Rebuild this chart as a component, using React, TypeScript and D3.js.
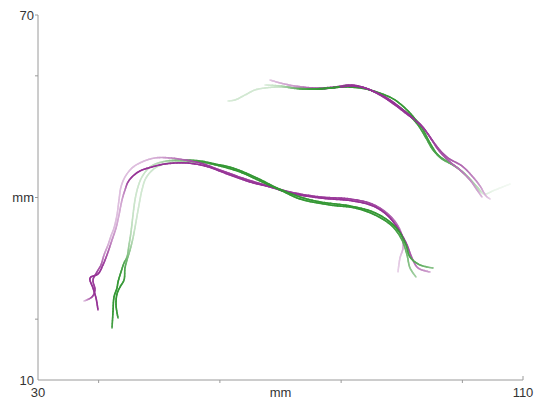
import React, { useEffect, useRef } from "react";
import * as d3 from "d3";

type P = [number, number, number]; // x mm, y mm, confidence (0..1)

const xTicks = [40, 60, 80, 100];
const yTicks = [20, 40, 60];
const xLabels: [number, string][] = [[30, "30"], [70, "mm"], [110, "110"]];
const yLabels: [number, string][] = [[70, "70"], [40, "mm"], [10, "10"]];

const lowerPurpleA: P[] = [
  [39.9, 21.51, 0.9], [39.57, 23.48, 0.9], [39.07, 25.13, 0.9], [38.58, 26.77, 0.9], [39.9, 27.43, 0.9],
  [40.72, 28.91, 0.85], [41.55, 31.04, 0.7], [42.21, 33.02, 0.5], [42.87, 34.99, 0.4], [43.36, 37.13, 0.35],
  [43.86, 39.6, 0.4], [44.35, 41.24, 0.55], [44.85, 42.55, 0.8], [45.67, 43.54, 0.9], [46.82, 44.36, 0.9],
  [48.8, 45.02, 0.9], [50.95, 45.51, 0.9], [54.25, 45.68, 0.9], [57.55, 45.18, 0.9], [61.67, 43.7, 0.9],
  [64.97, 42.55, 0.9], [68.27, 41.73, 0.9], [71.57, 40.74, 0.9], [76.52, 39.92, 0.9], [81.96, 39.43, 0.9],
  [85.26, 38.61, 0.9], [87.57, 37.13, 0.9], [89.22, 35.15, 0.9], [90.21, 33.51, 0.88], [90.87, 32.2, 0.82],
  [91.69, 30.06, 0.7], [92.68, 28.42, 0.55], [94.66, 27.76, 0.4],
];

const lowerPurpleB: P[] = [
  [37.59, 22.99, 0.25], [38.91, 23.65, 0.8], [39.4, 24.8, 0.85], [39.07, 26.44, 0.85], [39.73, 27.76, 0.8],
  [40.39, 28.91, 0.7], [40.89, 30.55, 0.5], [41.55, 32.2, 0.35], [42.04, 33.68, 0.3], [42.54, 34.99, 0.3],
  [43.03, 37.13, 0.28], [43.36, 39.6, 0.28], [43.69, 41.73, 0.28], [44.35, 43.37, 0.28], [45.51, 44.85, 0.28],
  [47.15, 45.84, 0.3], [49.3, 46.5, 0.35], [51.77, 46.5, 0.5], [54.25, 46.17, 0.7], [56.72, 45.68, 0.85],
  [60.02, 44.52, 0.85], [64.15, 43.05, 0.85], [67.44, 42.06, 0.85], [71.57, 40.91, 0.85], [76.52, 40.09, 0.85],
  [81.46, 39.76, 0.85], [85.09, 38.94, 0.8], [87.73, 37.29, 0.7], [89.38, 35.32, 0.6], [90.04, 33.68, 0.45],
  [90.21, 31.7, 0.35], [89.71, 30.06, 0.25], [89.38, 27.76, 0.2],
];

const lowerGreenA: P[] = [
  [42.21, 18.55, 0.8], [42.37, 21.18, 0.9], [42.54, 23.65, 0.9], [43.03, 25.13, 0.9], [43.2, 26.11, 0.9],
  [43.69, 27.76, 0.85], [44.19, 29.24, 0.75], [44.68, 30.22, 0.55], [45.01, 32.2, 0.4], [45.34, 34.33, 0.3],
  [45.67, 37.13, 0.25], [46.0, 39.6, 0.22], [46.49, 41.73, 0.22], [47.15, 43.37, 0.22], [48.47, 45.02, 0.25],
  [50.45, 45.84, 0.35], [53.42, 46.17, 0.6], [56.72, 46.0, 0.85], [59.2, 45.51, 0.9], [62.16, 44.85, 0.9],
  [66.12, 43.21, 0.9], [69.42, 41.57, 0.9], [73.22, 40.09, 0.9], [76.52, 39.27, 0.9], [81.46, 38.61, 0.9],
  [85.26, 37.62, 0.9], [88.06, 35.98, 0.9], [89.71, 34.17, 0.9], [90.7, 32.2, 0.85], [91.36, 30.22, 0.8],
  [93.01, 28.91, 0.7], [95.16, 28.42, 0.5],
];

const lowerGreenB: P[] = [
  [43.2, 20.2, 0.85], [42.87, 22.33, 0.9], [43.03, 24.14, 0.9], [43.53, 25.29, 0.9], [44.19, 26.44, 0.85],
  [44.35, 28.42, 0.75], [44.68, 29.73, 0.6], [45.18, 31.37, 0.45], [45.67, 33.35, 0.3], [46.16, 35.98, 0.22],
  [46.66, 38.77, 0.2], [47.15, 41.24, 0.2], [47.81, 43.21, 0.2], [49.3, 44.85, 0.22], [51.44, 45.68, 0.3],
  [54.25, 45.84, 0.5], [56.72, 45.84, 0.75], [60.02, 45.18, 0.9], [63.32, 44.2, 0.9], [66.62, 42.72, 0.9],
  [69.92, 41.24, 0.9], [73.22, 39.76, 0.9], [78.16, 38.77, 0.9], [82.29, 38.28, 0.9], [85.59, 37.13, 0.9],
  [88.39, 35.32, 0.85], [90.04, 33.02, 0.75], [90.87, 30.55, 0.6], [91.36, 28.42, 0.5], [92.35, 26.94, 0.4],
];

const upperGreenA: P[] = [
  [61.34, 55.87, 0.15], [62.49, 56.03, 0.2], [64.15, 56.85, 0.2], [65.79, 57.68, 0.2], [67.44, 58.0, 0.2],
  [69.92, 58.17, 0.25], [72.39, 58.0, 0.5], [74.87, 57.84, 0.85], [78.16, 58.0, 0.9], [80.64, 58.17, 0.9],
  [83.11, 58.0, 0.9], [84.76, 57.68, 0.9], [87.24, 56.85, 0.9], [88.89, 56.03, 0.9], [90.87, 54.39, 0.9],
  [92.19, 52.91, 0.9], [93.34, 51.43, 0.85], [94.66, 48.96, 0.85], [95.98, 46.99, 0.8], [97.63, 45.84, 0.7],
  [99.61, 44.52, 0.55], [101.75, 42.39, 0.4], [102.91, 40.91, 0.25],
];

const upperGreenB: P[] = [
  [67.44, 58.5, 0.15], [69.92, 58.33, 0.3], [73.22, 57.84, 0.75], [76.52, 57.84, 0.9], [79.81, 58.17, 0.9],
  [82.29, 58.33, 0.9], [84.76, 57.68, 0.9], [86.91, 56.69, 0.9], [88.89, 55.37, 0.9], [91.03, 53.73, 0.9],
  [92.68, 51.92, 0.85], [94.0, 49.78, 0.8], [95.16, 47.81, 0.75], [96.64, 46.33, 0.7], [98.78, 45.18, 0.6],
  [100.76, 43.54, 0.45], [102.58, 41.57, 0.3], [103.57, 40.58, 0.15], [105.38, 41.24, 0.08], [107.86, 42.22, 0.05],
];

const upperPurpleA: P[] = [
  [68.27, 59.32, 0.25], [69.92, 58.83, 0.35], [72.39, 58.33, 0.45], [75.69, 58.0, 0.7], [78.99, 58.17, 0.85],
  [81.46, 58.5, 0.9], [83.44, 58.17, 0.9], [85.59, 57.35, 0.9], [88.06, 56.03, 0.9], [90.21, 54.39, 0.9],
  [92.19, 52.74, 0.9], [93.84, 51.1, 0.85], [95.16, 49.13, 0.8], [96.31, 47.48, 0.75], [97.96, 45.84, 0.7],
  [99.61, 44.52, 0.6], [101.26, 42.88, 0.5], [102.41, 41.24, 0.4], [103.24, 40.09, 0.3],
];

const upperPurpleB: P[] = [
  [70.74, 58.17, 0.35], [73.22, 58.0, 0.6], [76.52, 57.84, 0.85], [79.81, 58.17, 0.9], [81.79, 58.33, 0.9],
  [83.93, 58.0, 0.9], [86.41, 56.85, 0.9], [88.89, 55.21, 0.9], [91.03, 53.57, 0.9], [93.01, 52.09, 0.85],
  [94.66, 49.95, 0.85], [95.98, 48.14, 0.8], [97.63, 46.5, 0.75], [99.94, 45.18, 0.65], [101.59, 43.54, 0.55],
  [102.91, 41.9, 0.45], [103.9, 40.25, 0.3], [104.56, 39.76, 0.2],
];

const PURPLE = "#8a1c8a";
const GREEN = "#1e8c1e";

const curves: { pts: P[]; color: string }[] = [
  { pts: lowerPurpleA, color: PURPLE },
  { pts: lowerPurpleB, color: PURPLE },
  { pts: lowerGreenA, color: GREEN },
  { pts: lowerGreenB, color: GREEN },
  { pts: upperGreenA, color: GREEN },
  { pts: upperGreenB, color: GREEN },
  { pts: upperPurpleA, color: PURPLE },
  { pts: upperPurpleB, color: PURPLE },
];

const W = 542;
const H = 405;

export default function App() {
  const ref = useRef<SVGSVGElement | null>(null);

  useEffect(() => {
    const svg = d3.select(ref.current);
    svg.selectAll("*").remove();

    const x = d3.scaleLinear().domain([30, 110]).range([38, 523]);
    const y = d3.scaleLinear().domain([10, 70]).range([380, 15]);

    const axisColor = "#9a9a9a";
    const textColor = "#333";
    const font = "'Liberation Sans', Arial, sans-serif";

    const ax = svg.append("g");
    ax.append("line").attr("x1", x(30)).attr("x2", x(30)).attr("y1", y(70)).attr("y2", y(10))
      .attr("stroke", axisColor).attr("stroke-width", 1);
    ax.append("line").attr("x1", x(30)).attr("x2", x(110)).attr("y1", y(10)).attr("y2", y(10))
      .attr("stroke", axisColor).attr("stroke-width", 1);

    yTicks.concat([70]).forEach((v) => {
      ax.append("line").attr("x1", x(30) - 3).attr("x2", x(30)).attr("y1", y(v)).attr("y2", y(v))
        .attr("stroke", axisColor);
    });
    xTicks.forEach((v) => {
      ax.append("line").attr("x1", x(v)).attr("x2", x(v)).attr("y1", y(10)).attr("y2", y(10) + 3)
        .attr("stroke", axisColor);
    });
    ax.append("line").attr("x1", x(110)).attr("x2", x(110)).attr("y1", y(10) - 4).attr("y2", y(10))
      .attr("stroke", axisColor);

    yLabels.forEach(([v, t]) => {
      ax.append("text").attr("x", x(30) - 4).attr("y", y(v)).attr("dy", "0.35em")
        .attr("text-anchor", "end").attr("font-family", font).attr("font-size", 13)
        .attr("fill", textColor).text(t);
    });
    xLabels.forEach(([v, t]) => {
      ax.append("text").attr("x", x(v)).attr("y", 397)
        .attr("text-anchor", "middle").attr("font-family", font).attr("font-size", 13)
        .attr("fill", textColor).text(t);
    });

    const line = d3.line<P>()
      .x((d) => x(d[0]))
      .y((d) => y(d[1]))
      .curve(d3.curveCatmullRom.alpha(0.5));

    type Seg = { x1: number; y1: number; x2: number; y2: number; a: number; color: string };
    const segs: Seg[] = [];

    curves.forEach(({ pts, color }) => {
      const tmp = svg.append("path").attr("d", line(pts) || "").attr("fill", "none").attr("stroke", "none");
      const node = tmp.node() as SVGPathElement;
      const total = node.getTotalLength();
      const cum: number[] = [0];
      for (let i = 1; i < pts.length; i++) {
        const dx = x(pts[i][0]) - x(pts[i - 1][0]);
        const dy = y(pts[i][1]) - y(pts[i - 1][1]);
        cum.push(cum[i - 1] + Math.hypot(dx, dy));
      }
      const scale = total / cum[cum.length - 1];
      const alphaAt = (L: number) => {
        const lp = L / scale;
        let i = 0;
        while (i < cum.length - 2 && cum[i + 1] < lp) i++;
        const t = Math.max(0, Math.min(1, (lp - cum[i]) / (cum[i + 1] - cum[i] || 1)));
        return pts[i][2] + (pts[i + 1][2] - pts[i][2]) * t;
      };
      const step = 1.5;
      let prev = node.getPointAtLength(0);
      for (let L = step; L <= total + step; L += step) {
        const ll = Math.min(L, total);
        const p = node.getPointAtLength(ll);
        const a = alphaAt(ll - step / 2);
        segs.push({ x1: prev.x, y1: prev.y, x2: p.x, y2: p.y, a, color });
        prev = p;
        if (ll >= total) break;
      }
      tmp.remove();
    });

    segs.sort((a, b) => a.a - b.a);
    const g = svg.append("g");
    g.selectAll("line").data(segs).join("line")
      .attr("x1", (d) => d.x1).attr("y1", (d) => d.y1)
      .attr("x2", (d) => d.x2).attr("y2", (d) => d.y2)
      .attr("stroke", (d) => d3.interpolateRgb("#ffffff", d.color)(d.a))
      .attr("stroke-width", 1.6)
      .attr("stroke-linecap", "round");
  }, []);

  return (
    <svg
      ref={ref}
      width={W}
      height={H}
      style={{ position: "absolute", left: 0, top: 0, background: "#fff" }}
    />
  );
}
